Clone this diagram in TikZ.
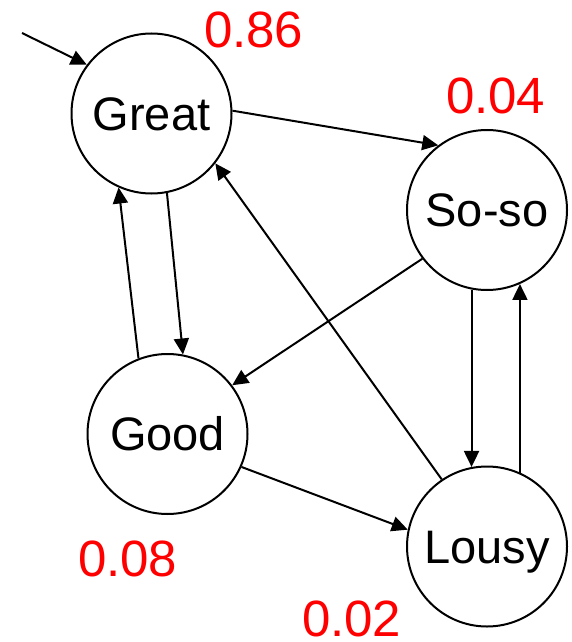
\documentclass[tikz,border=0pt]{standalone}
\usepackage{fontspec}
\setmainfont{Liberation Sans}
\usetikzlibrary{arrows.meta}

\begin{document}
\begin{tikzpicture}[x=0.5pt, y=-0.5pt, line width=1pt,
    >={Triangle[length=8pt,width=7.5pt]},
    state/.style={draw, circle, minimum size=80pt, inner sep=0pt,
      font=\fontsize{23.5}{28}\selectfont, text height=16.8pt, text depth=0pt},
    prob/.style={text=red, font=\fontsize{25.5}{30}\selectfont,
      anchor=base west, inner sep=0pt}]
  \useasboundingbox (0,0) rectangle (572,642);

  % states
  \node[state] (great) at (151.5,113.5) {Great};
  \node[state] (soso)  at (487,210)     {So-so};
  \node[state] (good)  at (167.5,434)   {Good};
  \node[state] (lousy) at (487,546.5)   {Lousy};
  \coordinate (start) at (22,33);

  % probabilities
  \node[prob] (pgreat) at (203,48)  {0.86};
  \node[prob] (psoso)  at (445,113) {0.04};
  \node[prob] (pgood)  at (77,576)  {0.08};
  \node[prob] (plousy) at (301,636) {0.02};

  \path[->]
  (start)       edge (great.143.6)
  (great.2.5)   edge (soso.127.4)
  (great.-79)   edge (good.79)
  (soso.217)    edge (good.37)
  (soso.-101)   edge (lousy.101)
  (good.111)    edge (great.246)
  (good.-24)    edge (lousy.168)
  (lousy.124)   edge (great.-38)
  (lousy.66.4)  edge (soso.-66.4)
  ;
\end{tikzpicture}
\end{document}
